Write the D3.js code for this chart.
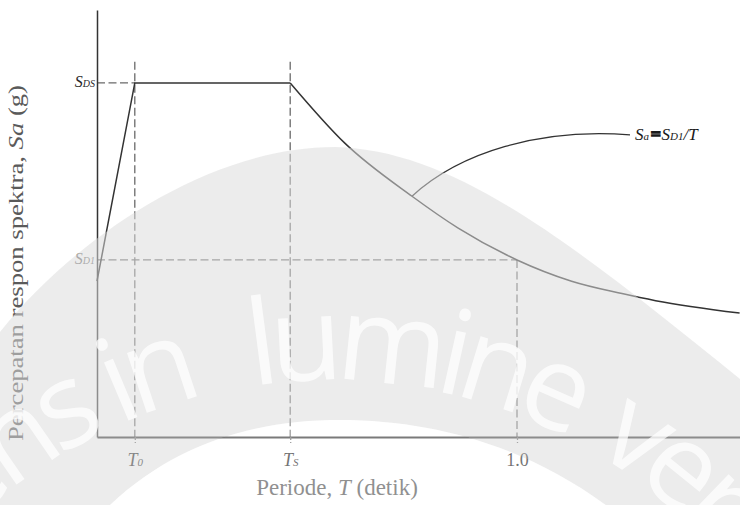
<!DOCTYPE html>
<html>
<head>
<meta charset="utf-8">
<script src="https://cdn.jsdelivr.net/npm/d3@7"></script>
<style>
  body { margin: 0; background: #fff; }
  svg { display: block; }
</style>
</head>
<body>
<script>
// values (Sa in units of SDS, T in seconds)
var riseT = [0, 0.09, 0.46];
var riseSa = [0.44, 1.0, 1.0];
var decayT = [0.46, 0.59, 0.75, 0.86, 1.0, 1.13, 1.25, 1.33, 1.53];
var decaySa = [1.0, 0.83, 0.68, 0.59, 0.50, 0.44, 0.405, 0.385, 0.35];
var T0 = 0.09, Ts = 0.46, T1 = 1.0;
var SDS = 1.0, SD1 = 0.5;
var xTickVals = [T0, Ts, T1];
var xTickMain = ["T", "T", "1.0"];
var xTickSub = ["0", "S", ""];
var yTickVals = [SDS, SD1];
var yTickSub = ["DS", "D1"];

var width = 740, height = 505;
var serif = "'Liberation Serif', 'Times New Roman', serif";
var ink = "#2a2a2a";

var svg = d3.select("body").append("svg")
    .attr("width", width)
    .attr("height", height);

var x = d3.scaleLinear().domain([0, 1.54]).range([97, 97 + 1.54 * 420]);
var y = d3.scaleLinear().domain([0, 1.206]).range([437, 10]);

// dashed guides
var guides = svg.append("g")
    .attr("fill", "none")
    .attr("stroke", "#6a6a6a")
    .attr("stroke-width", 1.3)
    .attr("stroke-dasharray", "8,3.5");
guides.append("line")
    .attr("x1", x(0)).attr("x2", x(T0))
    .attr("y1", y(SDS)).attr("y2", y(SDS));
guides.append("line")
    .attr("x1", x(0)).attr("x2", x(T1))
    .attr("y1", y(SD1)).attr("y2", y(SD1));
[T0, Ts].forEach(function (t) {
  guides.append("line")
      .attr("x1", x(t)).attr("x2", x(t))
      .attr("y1", y(1.06)).attr("y2", y(0));
});
guides.append("line")
    .attr("x1", x(T1)).attr("x2", x(T1))
    .attr("y1", y(SD1)).attr("y2", y(0));

// axes
var xAxis = svg.append("g")
    .attr("transform", "translate(0," + y(0) + ")")
    .call(d3.axisBottom(x).tickValues(xTickVals).tickSizeInner(6)
      .tickSizeOuter(0).tickPadding(12).tickFormat(""));
xAxis.select(".domain").attr("stroke", "#333").attr("stroke-width", 2);
xAxis.selectAll(".tick line").attr("stroke", "#6a6a6a")
    .attr("stroke-width", 1.3).attr("stroke-dasharray", "3,2");
xAxis.selectAll(".tick text").each(function (d, i) {
  var t = d3.select(this)
      .attr("font-family", serif)
      .attr("fill", ink)
      .attr("dy", "1.1em");
  if (xTickSub[i]) {
    t.append("tspan").attr("font-style", "italic").attr("font-size", 18).text(xTickMain[i]);
    t.append("tspan").attr("font-style", "italic").attr("font-size", 11).text(xTickSub[i]);
  } else {
    t.append("tspan").attr("font-size", 18).text(xTickMain[i]);
  }
});

var yAxis = svg.append("g")
    .attr("transform", "translate(" + x(0) + ",0)")
    .call(d3.axisLeft(y).tickValues(yTickVals).tickSize(0)
      .tickPadding(2).tickFormat(""));
yAxis.select(".domain").attr("stroke", "#333").attr("stroke-width", 1.5);
yAxis.selectAll(".tick text").each(function (d, i) {
  var t = d3.select(this)
      .attr("font-family", serif)
      .attr("fill", i === 0 ? ink : "#777")
      .attr("dy", "0.4em");
  t.append("tspan").attr("font-style", "italic").attr("font-size", 16).text("S");
  t.append("tspan").attr("font-style", "italic").attr("font-size", 10).text(yTickSub[i]);
});

// spectrum curve
var rise = d3.line()
    .x(function (d, i) { return x(riseT[i]); })
    .y(function (d, i) { return y(riseSa[i]); });
var decay = d3.line()
    .x(function (d, i) { return x(decayT[i]); })
    .y(function (d, i) { return y(decaySa[i]); })
    .curve(d3.curveMonotoneX);
svg.append("path")
    .attr("d", rise(riseT))
    .attr("fill", "none").attr("stroke", "#333").attr("stroke-width", 1.5);
svg.append("path")
    .attr("d", decay(decayT))
    .attr("fill", "none").attr("stroke", "#333").attr("stroke-width", 1.5);

// annotation Sa = SD1/T
var ax = x(0.75), ay = y(0.68);
var lx = x(1.281), ly = y(0.839);
svg.append("path")
    .attr("d", "M" + ax + "," + ay + " C" + (ax + 48) + "," + (ay - 44) +
      " " + (lx - 95) + "," + (ly - 12) + " " + (lx - 5) + "," + (ly - 5))
    .attr("fill", "none").attr("stroke", "#333").attr("stroke-width", 1.3);
var ann = svg.append("text")
    .attr("x", lx).attr("y", ly)
    .attr("font-family", serif).attr("fill", "#1a1a1a")
    .attr("font-style", "italic");
ann.append("tspan").attr("font-size", 17).text("S");
ann.append("tspan").attr("font-size", 11).text("a");
ann.append("tspan").attr("font-size", 17).attr("font-style", "normal")
    .attr("stroke", "#1a1a1a").attr("stroke-width", 1.8).attr("dx", 2).text("=");
ann.append("tspan").attr("font-size", 17).attr("dx", 1).text("S");
ann.append("tspan").attr("font-size", 11).text("D1");
ann.append("tspan").attr("font-size", 17).text("/T");

// axis titles
var xt = svg.append("text")
    .attr("x", 337).attr("y", 495)
    .attr("text-anchor", "middle")
    .attr("font-family", serif).attr("font-size", 23).attr("fill", "#555");
xt.append("tspan").text("Periode, ");
xt.append("tspan").attr("font-style", "italic").text("T");
xt.append("tspan").text(" (detik)");

var yt = svg.append("text")
    .attr("transform", "translate(23,263) rotate(-90)")
    .attr("text-anchor", "middle")
    .attr("font-family", serif).attr("font-size", 21).attr("fill", "#5a5a5a")
    .attr("textLength", 356).attr("lengthAdjust", "spacingAndGlyphs");
yt.append("tspan").text("Percepatan respon spektra, ");
yt.append("tspan").attr("font-style", "italic").text("Sa");
yt.append("tspan").text(" (g)");

// watermark overlay
var wm = svg.append("g").attr("pointer-events", "none");
var band = d3.path();
band.moveTo(-10, 345);
band.bezierCurveTo(60, 250, 200, 147, 335, 147);
band.bezierCurveTo(460, 150, 580, 250, 760, 395);
band.lineTo(760, 515);
band.lineTo(-10, 515);
band.closePath();
var dome = d3.path();
dome.moveTo(95, 520);
dome.bezierCurveTo(170, 440, 260, 420, 340, 420);
dome.bezierCurveTo(440, 420, 540, 450, 625, 520);
dome.closePath();
wm.append("path")
    .attr("d", band.toString() + dome.toString())
    .attr("fill-rule", "evenodd")
    .attr("fill", "rgb(219,219,219)")
    .attr("fill-opacity", 0.53);
wm.append("path")
    .attr("d", dome.toString())
    .attr("fill", "#fff")
    .attr("fill-opacity", 0.35);

var cx = 330, cy = 900, R = 520;
wm.append("path")
    .attr("id", "wmArc")
    .attr("fill", "none")
    .attr("d", "M" + cx + "," + (cy + R) +
      " A" + R + "," + R + " 0 1 1 " + cx + "," + (cy - R) +
      " A" + R + "," + R + " 0 1 1 " + cx + "," + (cy + R));
var arcTop = Math.PI * R;
var words = [
  { text: "Serviens in", at: -135, anchor: "end" },
  { text: "lumine", at: -78, anchor: "start" },
  { text: "veritatis", at: 275, anchor: "start" }
];
words.forEach(function (w) {
  wm.append("text")
      .attr("font-family", "'Open Sans', 'DejaVu Sans', sans-serif")
      .attr("font-size", 118)
      .attr("letter-spacing", -10)
      .attr("fill", "#fff")
      .attr("fill-opacity", 0.75)
      .attr("text-anchor", w.anchor)
    .append("textPath")
      .attr("href", "#wmArc")
      .attr("startOffset", arcTop + w.at)
      .text(w.text);
});
</script>
</body>
</html>
